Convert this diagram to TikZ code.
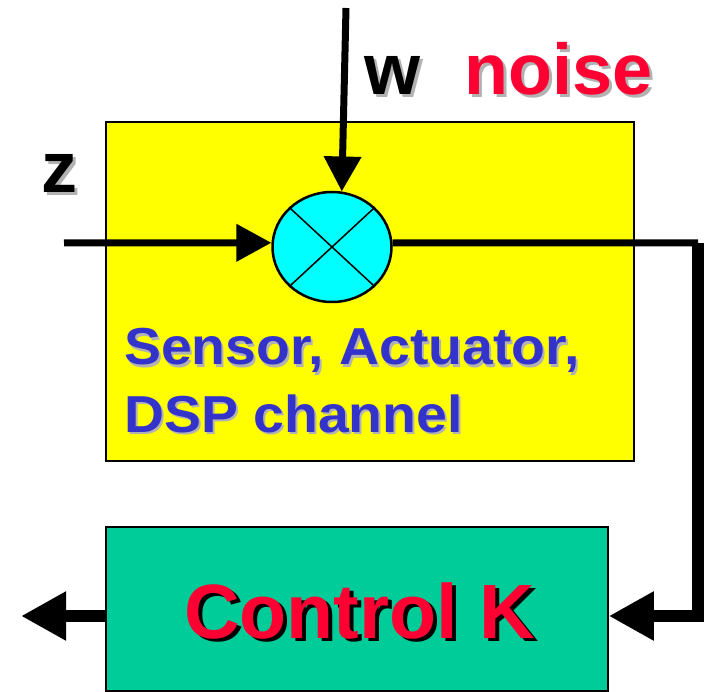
\documentclass[tikz,border=0pt]{standalone}
\usepackage{fontspec}
\setmainfont{Liberation Sans}
\newfontfamily\wideblkfont{Liberation Sans}[FakeStretch=1.065]
\usetikzlibrary{arrows.meta,shapes.geometric}
\definecolor{boxyellow}{RGB}{255,255,0}
\definecolor{boxgreen}{RGB}{0,204,153}
\definecolor{mixcyan}{RGB}{0,255,255}
\definecolor{noisered}{RGB}{255,0,51}
\definecolor{labelblue}{RGB}{51,51,204}
\definecolor{shadowgray}{RGB}{178,178,178}
\tikzset{
  blk/.style={draw=black,line width=1.5pt,inner sep=0pt},
  sig/.style={line width=7pt,-{Triangle[length=35pt,width=36pt]}},
  fbk/.style={line width=12pt,-{Triangle[length=45pt,width=46pt]}},
  lbl/.style={anchor=base west,inner sep=0pt,font=\bfseries\fontsize{72}{72}\selectfont},
  blklbl/.style={anchor=base west,inner sep=0pt,font=\wideblkfont\bfseries\fontsize{52}{52}\selectfont},
  ctrllbl/.style={anchor=base west,inner sep=0pt,font=\bfseries\fontsize{77}{77}\selectfont}
}
\begin{document}
\begin{tikzpicture}[x=1pt,y=-1pt]%
% coordinates in pt, origin top left, y down
\useasboundingbox (0,0) rectangle (704,692);
\node[blk,fill=boxyellow,minimum width=528pt,minimum height=339pt] (plant) at (370,291.5) {};
\node[blk,fill=boxgreen,minimum width=502pt,minimum height=164pt] (ctrl) at (357,609) {};
\node[draw=black,line width=2.5pt,fill=mixcyan,ellipse,inner sep=0pt,
  minimum width=119pt,minimum height=110pt] (mix) at (332,247) {};
\draw[line width=1.5pt] (mix.north west) -- (mix.south east);
\draw[line width=1.5pt] (mix.north east) -- (mix.south west);
% labels, shadow first
\node[lbl,text=shadowgray] (zS) at (44,196) {z};
\node[lbl] (z) at (41,193) {z};
\node[lbl,text=shadowgray] (wS) at (367,98) {w};
\node[lbl] (w) at (364,95) {w};
\node[lbl,text=shadowgray] (noiseS) at (467,98) {noise};
\node[lbl,text=noisered] (noise) at (464,95) {noise};
\node[blklbl,text=shadowgray] (sensS) at (126,367) {Sensor, Actuator,};
\node[blklbl,text=labelblue] (sens) at (124,365) {Sensor, Actuator,};
\node[blklbl,text=shadowgray] (dspS) at (126,434) {DSP channel};
\node[blklbl,text=labelblue] (dsp) at (124,432) {DSP channel};
\node[ctrllbl,text=black] (ctrlS) at (188,641) {Control K};
\node[ctrllbl,text=noisered] (ctrlK) at (184,638) {Control K};
% signals
\coordinate (wtop) at (346,8);
\coordinate (zin) at (64,243);
\coordinate (fb1) at (698,243);
\coordinate (uout) at (21,616);
\draw[sig] (wtop) -- (mix.80);
\draw[sig] (zin) -- (mix.176);
\draw[line width=7pt] (mix.4) -- (fb1);
\draw[fbk] (fb1) |- ([yshift=-7pt]ctrl.east);
\draw[fbk] ([yshift=-7pt]ctrl.west) -- (uout);
\end{tikzpicture}
\end{document}
